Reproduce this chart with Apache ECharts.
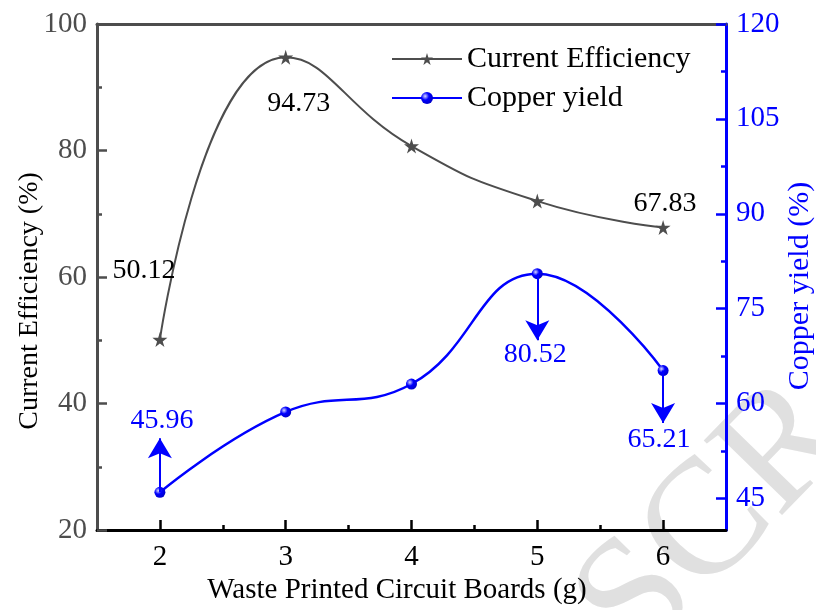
<!DOCTYPE html>
<html>
<head>
<meta charset="utf-8">
<script src="https://cdn.jsdelivr.net/npm/echarts@6/dist/echarts.min.js"></script>
<style>
  html, body { margin: 0; padding: 0; background: #fff; }
  #main { width: 816px; height: 610px; }
</style>
</head>
<body>
<div id="main"></div>
<script>
// data
var boards = [2, 3, 4, 5, 6];
var efficiency = [50.12, 94.73, 80.7, 72.0, 67.83];
var copperYield = [45.96, 58.66, 63.08, 80.52, 65.21];
var xTicks = [2, 3, 4, 5, 6];
var xMinorTicks = [2.5, 3.5, 4.5, 5.5];
var rightTicks = [45, 60, 75, 90, 105, 120];
var rightMinorTicks = [52.5, 67.5, 82.5, 97.5, 112.5];
// arrows: x position, where they start and where the head points (copper axis)
var arrowBoards = [2, 5, 6];
var arrowFrom = [45.96, 80.52, 65.21];
var arrowTo = [54.5, 70.0, 56.9];
// which points carry a value label
var effLabelled = [0, 1, 4];
var cuLabelled = [0, 3, 4];

var FONT = "'Liberation Serif', 'Times New Roman', serif";
var GRAY = '#4d4d4d';
var BLUE = '#0000ff';

// label offsets from each point, in px
var effOffset = { 0: [-16, -69], 1: [13, 46], 4: [2, -24] };
var cuOffset = { 0: [2, -72], 3: [-2, 81], 4: [-4, 69] };

function makeData(xs, ys, labelled, offsets, color) {
    return xs.map(function (x, i) {
        var item = { value: [x, ys[i]] };
        if (labelled.indexOf(i) >= 0) {
            item.label = {
                show: true,
                position: 'inside',
                offset: offsets[i],
                formatter: ys[i].toFixed(2),
                fontFamily: FONT,
                fontSize: 28,
                color: color
            };
        }
        return item;
    });
}

var arrowData = arrowBoards.map(function (x, i) {
    return [{ coord: [x, arrowFrom[i]] }, { coord: [x, arrowTo[i]] }];
});

var starPath = 'path://M50,0 L61,35 L98,35 L68,57 L79,91 L50,70 L21,91 L32,57 L2,35 L39,35 Z';

var myChart = echarts.init(document.getElementById('main'));
var option = {
    animation: false,
    backgroundColor: '#fff',
    grid: { left: 97, right: 90, top: 24, bottom: 80 },
    legend: {
        orient: 'vertical',
        left: 386,
        top: 39,
        itemWidth: 70,
        itemHeight: 15,
        itemGap: 9,
        textStyle: { fontFamily: FONT, fontSize: 30, color: '#000' },
        data: ['Current Efficiency', 'Copper yield']
    },
    graphic: [
        {
            // faint watermark of the accepted manuscript
            type: 'text', z: -10, x: 715, y: 522, rotation: 0.8,
            style: { text: 'SCR', font: '165px ' + FONT, fill: '#e0e0e0', align: 'center', verticalAlign: 'middle' }
        },
        {
            type: 'text', x: 30, y: 301, rotation: Math.PI / 2,
            style: { text: 'Current Efficiency (%)', font: '28px ' + FONT, fill: '#000', align: 'center', verticalAlign: 'middle' }
        },
        {
            type: 'text', x: 800, y: 286, rotation: Math.PI / 2,
            style: { text: 'Copper yield (%)', font: '30px ' + FONT, fill: BLUE, align: 'center', verticalAlign: 'middle' }
        },
        {
            type: 'text', x: 397, y: 590,
            style: { text: 'Waste Printed Circuit Boards (g)', font: '29px ' + FONT, fill: '#000', align: 'center', verticalAlign: 'middle' }
        }
    ],
    xAxis: [
        {
            type: 'value', min: 1.5, max: 6.5, position: 'bottom',
            axisLine: { show: true, lineStyle: { color: '#000', width: 3 } },
            axisTick: { show: true, inside: true, length: 10, customValues: xTicks, lineStyle: { color: '#000', width: 2.5 } },
            axisLabel: { customValues: xTicks, margin: 13, fontFamily: FONT, fontSize: 29, color: '#000' },
            splitLine: { show: false }
        },
        {
            type: 'value', min: 1.5, max: 6.5, position: 'bottom',
            axisLine: { show: false },
            axisTick: { show: true, inside: true, length: 5, customValues: xMinorTicks, lineStyle: { color: '#000', width: 2.5 } },
            axisLabel: { show: false },
            splitLine: { show: false }
        },
        {
            type: 'value', min: 1.5, max: 6.5, position: 'top',
            axisLine: { show: true, lineStyle: { color: GRAY, width: 3 } },
            axisTick: { show: false },
            axisLabel: { show: false },
            splitLine: { show: false }
        }
    ],
    yAxis: [
        {
            type: 'value', min: 20, max: 100, interval: 20, position: 'left',
            axisLine: { show: true, lineStyle: { color: GRAY, width: 3 } },
            axisTick: { show: true, inside: true, length: 10, lineStyle: { color: GRAY, width: 2.5 } },
            minorTick: { show: true, splitNumber: 2, length: 5, lineStyle: { color: GRAY, width: 2.5 } },
            axisLabel: { margin: 10, fontFamily: FONT, fontSize: 29, color: GRAY },
            splitLine: { show: false }
        },
        {
            type: 'value', min: 40, max: 120, position: 'right',
            axisLine: { show: true, lineStyle: { color: BLUE, width: 3 } },
            axisTick: { show: true, inside: true, length: 10, customValues: rightTicks, lineStyle: { color: BLUE, width: 2.5 } },
            axisLabel: { customValues: rightTicks, margin: 10, fontFamily: FONT, fontSize: 29, color: BLUE },
            splitLine: { show: false }
        },
        {
            type: 'value', min: 40, max: 120, position: 'right',
            axisLine: { show: false },
            axisTick: { show: true, inside: true, length: 5, customValues: rightMinorTicks, lineStyle: { color: BLUE, width: 2.5 } },
            axisLabel: { show: false },
            splitLine: { show: false }
        }
    ],
    series: [
        {
            name: 'Current Efficiency',
            type: 'line',
            xAxisIndex: 0,
            yAxisIndex: 0,
            smooth: 0.5,
            symbol: starPath,
            symbolSize: 15,
            itemStyle: { color: GRAY },
            lineStyle: { color: GRAY, width: 2 },
            data: makeData(boards, efficiency, effLabelled, effOffset, '#000')
        },
        {
            name: 'Copper yield',
            type: 'line',
            xAxisIndex: 0,
            yAxisIndex: 1,
            smooth: 0.45,
            symbol: 'circle',
            symbolSize: 11,
            itemStyle: {
                color: {
                    type: 'radial', x: 0.35, y: 0.35, r: 0.7,
                    colorStops: [{ offset: 0, color: '#d8d8ff' }, { offset: 0.45, color: BLUE }, { offset: 1, color: '#0000c8' }]
                }
            },
            lineStyle: { color: BLUE, width: 2.5 },
            data: makeData(boards, copperYield, cuLabelled, cuOffset, BLUE),
            markLine: {
                silent: true,
                symbol: ['none', 'arrow'],
                symbolSize: [18, 20],
                label: { show: false },
                lineStyle: { color: BLUE, width: 2, type: 'solid' },
                data: arrowData
            }
        }
    ]
};
if (option && typeof option === "object") {
    myChart.setOption(option, true);
}
</script>
</body>
</html>
